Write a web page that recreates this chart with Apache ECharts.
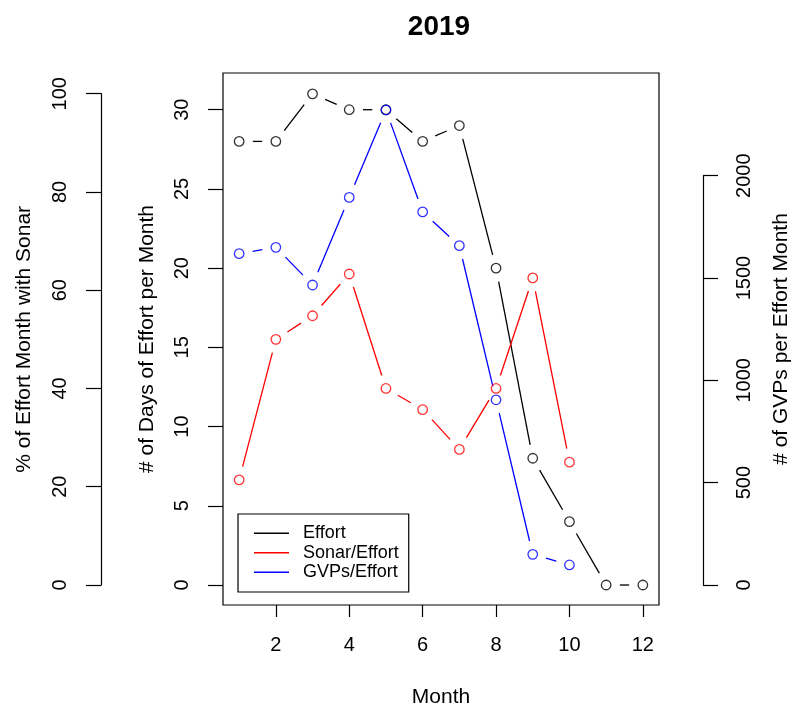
<!DOCTYPE html>
<html>
<head>
<meta charset="utf-8">
<script src="https://cdn.jsdelivr.net/npm/echarts@6/dist/echarts.min.js"></script>
<style>
  html, body { margin: 0; padding: 0; background: #fff; }
  #chart { width: 793px; height: 710px; }
</style>
</head>
<body>
<div id="chart"></div>
<script>
// Monthly survey summary, 2019
const months = [1, 2, 3, 4, 5, 6, 7, 8, 9, 10, 11, 12];
const effortDays = [28, 28, 31, 30, 30, 28, 29, 20, 8, 4, 0, 0];
const sonarPct = [21.4, 50, 54.8, 63.3, 40, 35.7, 27.6, 40, 62.5, 25, null, null];
const gvpsPerEffort = [1619, 1650, 1466, 1894, 2321, 1823, 1658, 905, 150, 98, null, null];

const monthTicks = [2, 4, 6, 8, 10, 12];
const dayTicks = [0, 5, 10, 15, 20, 25, 30];

const FONT = '"Liberation Sans", Arial, Helvetica, sans-serif';
const GAP = 13.7;   // distance between a point's centre and its connecting segment

// segments between consecutive months where both values exist
function segments(vals) {
  const out = [];
  for (let i = 0; i < months.length - 1; i++) {
    if (vals[i] != null && vals[i + 1] != null) {
      out.push([months[i], vals[i], months[i + 1], vals[i + 1]]);
    }
  }
  return out;
}
function points(vals) {
  return months.map((m, i) => [m, vals[i]]).filter(p => p[1] != null);
}

// "both" style: line pieces that stop short of the open circles
function gappedLine(name, vals, color, yAxisIndex) {
  return {
    type: 'custom',
    name: name,
    xAxisIndex: 0,
    yAxisIndex: yAxisIndex,
    data: segments(vals),
    dimensions: ['x0', 'y0', 'x1', 'y1'],
    encode: { x: [0, 2], y: [1, 3] },
    itemStyle: { color: color },
    silent: true,
    z: 2,
    renderItem: function (params, api) {
      const a = api.coord([api.value(0), api.value(1)]);
      const b = api.coord([api.value(2), api.value(3)]);
      const dx = b[0] - a[0], dy = b[1] - a[1];
      const len = Math.sqrt(dx * dx + dy * dy);
      if (len <= 2 * GAP) return { type: 'group', children: [] };
      const ux = dx / len, uy = dy / len;
      return {
        type: 'line',
        shape: {
          x1: a[0] + ux * GAP, y1: a[1] + uy * GAP,
          x2: b[0] - ux * GAP, y2: b[1] - uy * GAP
        },
        style: { stroke: color, lineWidth: 1.3 }
      };
    }
  };
}
function openPoints(name, vals, color, yAxisIndex) {
  return {
    type: 'scatter',
    name: name + ' points',
    xAxisIndex: 0,
    yAxisIndex: yAxisIndex,
    data: points(vals),
    symbol: 'circle',
    symbolSize: 9.5,
    itemStyle: { color: 'rgba(0,0,0,0)', borderColor: color, borderWidth: 1.3 },
    silent: true,
    z: 3
  };
}

const plainNumber = (v) => String(v);
const tickLabel = { color: '#000', fontFamily: FONT, fontSize: 20, formatter: plainNumber };
const axisName = { color: '#000', fontFamily: FONT, fontSize: 21 };
const blackLine = { color: '#000', width: 1.2 };

const hiddenX = (gridIndex) => ({
  type: 'value', gridIndex: gridIndex, min: 0.56, max: 12.44, show: false
});

const option = {
  animation: false,
  backgroundColor: '#fff',
  title: {
    text: '2019',
    left: 434,
    top: 8,
    textAlign: 'center',
    textStyle: { fontFamily: FONT, fontSize: 28, fontWeight: 'bold', color: '#000' }
  },
  legend: {
    orient: 'vertical',
    left: 238,
    top: 514,
    padding: [9.5, 10, 10, 16],
    borderColor: '#000',
    borderWidth: 1.2,
    backgroundColor: '#fff',
    itemWidth: 35,
    itemHeight: 1.5,
    itemGap: 0,
    selectedMode: false,
    textStyle: { fontFamily: FONT, fontSize: 18, color: '#000', lineHeight: 19.5, padding: [0, 0, 0, 9] },
    data: [
      { name: 'Effort', icon: 'rect', itemStyle: { color: '#000' } },
      { name: 'Sonar/Effort', icon: 'rect', itemStyle: { color: '#ff0000' } },
      { name: 'GVPs/Effort', icon: 'rect', itemStyle: { color: '#0000ff' } }
    ]
  },
  grid: [
    { left: 223, top: 73, width: 436, height: 532, show: true, outerBoundsMode: 'none',
      borderColor: '#000', borderWidth: 1.2, backgroundColor: 'transparent' },
    { left: 223, top: 93.7, width: 436, height: 491.3, outerBoundsMode: 'none' },
    { left: 223, top: 175.7, width: 436, height: 409.3, outerBoundsMode: 'none' }
  ],
  xAxis: [
    {
      type: 'value', gridIndex: 0, min: 0.56, max: 12.44,
      axisLine: { show: false, onZero: false },
      splitLine: { show: false },
      axisTick: { show: true, customValues: monthTicks, length: 12, lineStyle: blackLine },
      axisLabel: Object.assign({ customValues: monthTicks, margin: 30 }, tickLabel),
      name: 'Month',
      nameLocation: 'middle',
      nameGap: 82,
      nameTextStyle: axisName
    },
    hiddenX(1),
    hiddenX(2)
  ],
  yAxis: [
    {   // 0: days of effort
      type: 'value', gridIndex: 0, position: 'left', min: -1.262, max: 32.317,
      axisLine: { show: false, onZero: false },
      splitLine: { show: false },
      axisTick: { show: true, customValues: dayTicks, length: 15, lineStyle: blackLine },
      axisLabel: Object.assign({ customValues: dayTicks, rotate: 90, margin: 31 }, tickLabel),
      name: '# of Days of Effort per Month',
      nameLocation: 'middle',
      nameGap: 65,
      nameTextStyle: axisName
    },
    {   // 1: sonar percentage scale for the series
      type: 'value', gridIndex: 0, position: 'left', min: -4.071, max: 104.21, show: false
    },
    {   // 2: GVP scale for the series, carries the right-hand title
      type: 'value', gridIndex: 0, position: 'right', offset: 44, min: -97.7, max: 2501.8,
      axisLine: { show: false, onZero: false },
      axisTick: { show: false },
      axisLabel: { show: false },
      splitLine: { show: false },
      name: '# of GVPs per Effort Month',
      nameLocation: 'middle',
      nameGap: 68,
      nameTextStyle: axisName
    },
    {   // 3: visible percentage axis
      type: 'value', gridIndex: 1, position: 'left', offset: 122, min: 0, max: 100, interval: 20,
      axisLine: { show: true, onZero: false, lineStyle: blackLine },
      splitLine: { show: false },
      axisTick: { show: true, length: 15, lineStyle: blackLine },
      axisLabel: Object.assign({ rotate: 90, margin: 31 }, tickLabel),
      name: '% of Effort Month with Sonar',
      nameLocation: 'middle',
      nameGap: 66,
      nameTextStyle: axisName
    },
    {   // 4: visible GVP axis
      type: 'value', gridIndex: 2, position: 'right', offset: 44, min: 0, max: 2000, interval: 500,
      axisLine: { show: true, onZero: false, lineStyle: blackLine },
      splitLine: { show: false },
      axisTick: { show: true, length: 15, lineStyle: blackLine },
      axisLabel: Object.assign({ rotate: 90, margin: 31 }, tickLabel)
    }
  ],
  series: [
    gappedLine('Effort', effortDays, '#000', 0),
    gappedLine('Sonar/Effort', sonarPct, '#ff0000', 1),
    gappedLine('GVPs/Effort', gvpsPerEffort, '#0000ff', 2),
    openPoints('Effort', effortDays, '#000', 0),
    openPoints('Sonar/Effort', sonarPct, '#ff0000', 1),
    openPoints('GVPs/Effort', gvpsPerEffort, '#0000ff', 2)
  ]
};

const chart = echarts.init(document.getElementById('chart'), null, { renderer: 'canvas' });
chart.setOption(option);
</script>
</body>
</html>
